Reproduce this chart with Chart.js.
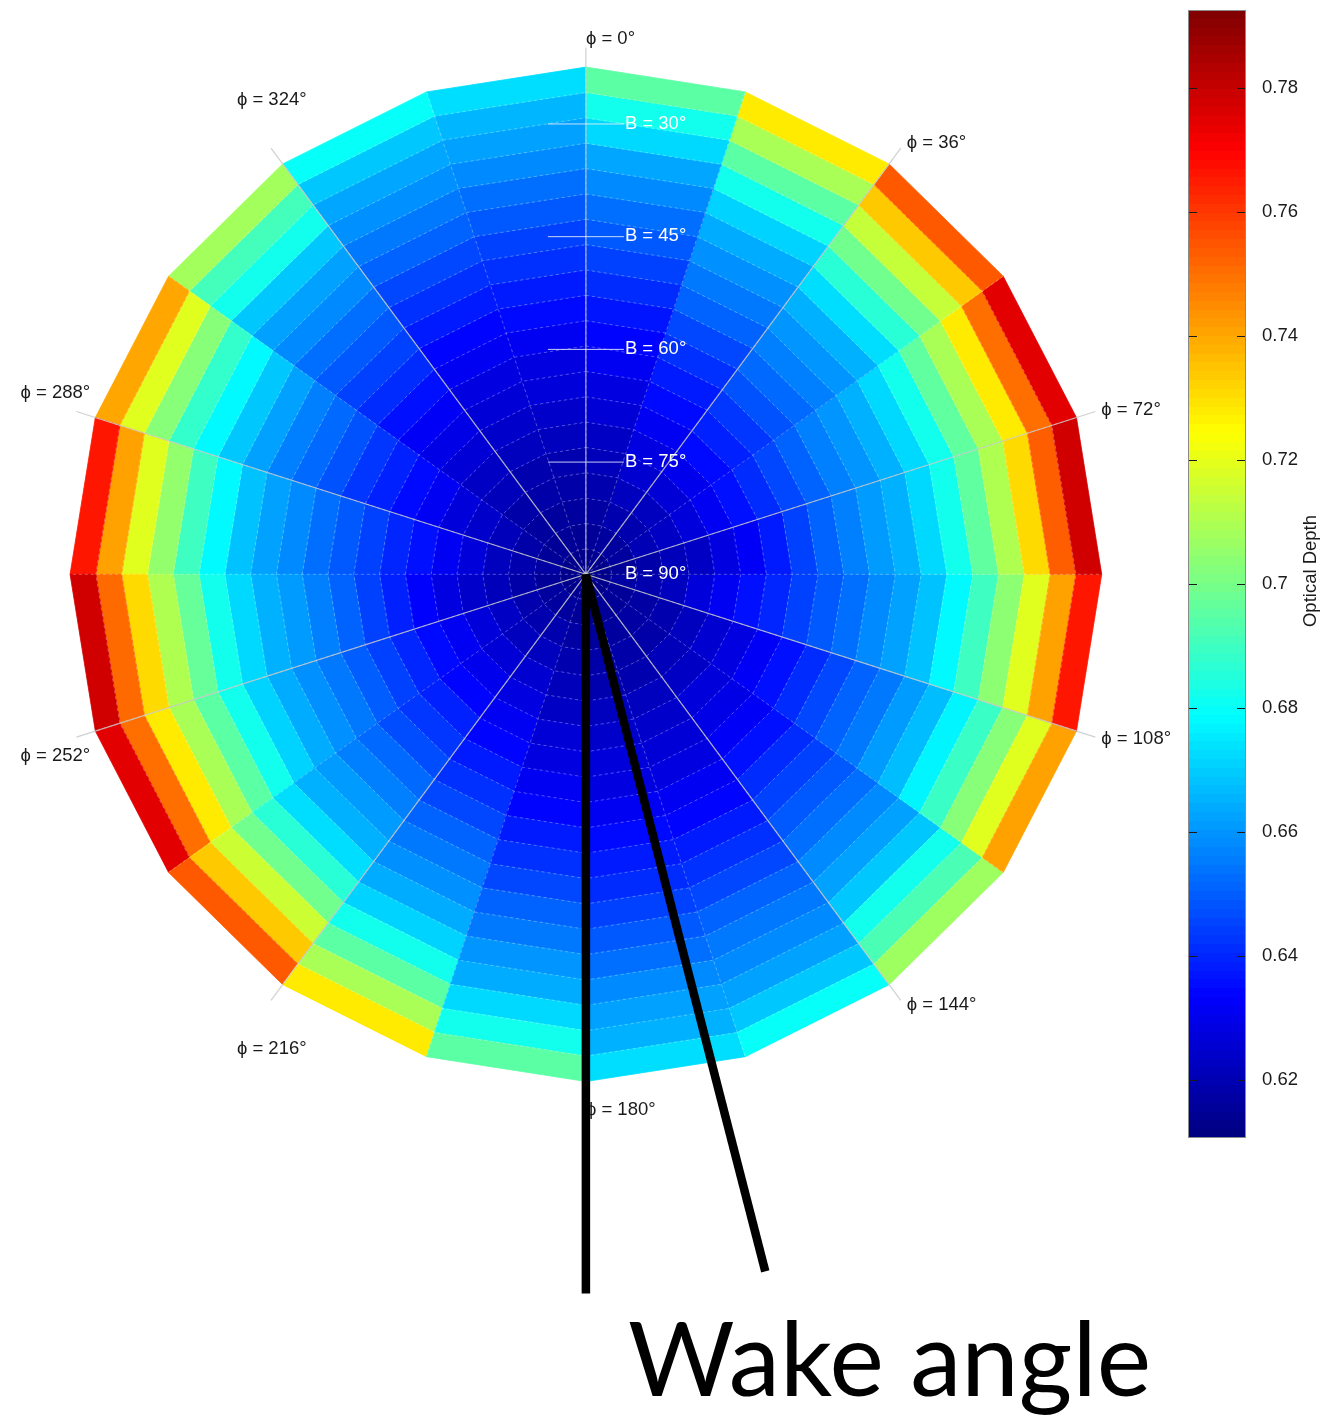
<!DOCTYPE html>
<html>
<head>
<meta charset="utf-8">
<title>Optical depth polar map</title>
<script src="https://cdn.jsdelivr.net/npm/chart.js@4.4.1/dist/chart.umd.min.js"></script>
<style>
  html, body { margin: 0; padding: 0; background: #fff; overflow: hidden; }
  #wrap { position: relative; width: 1325px; height: 1420px; }
  #polar { position: absolute; left: 0; top: 0; }
  #colorbar { position: absolute; left: 1180px; top: 0; }
</style>
</head>
<body>
<div id="wrap">
  <canvas id="polar" width="1325" height="1420"></canvas>
  <canvas id="colorbar" width="145" height="1150"></canvas>
</div>
<script>
// sector start angles (deg, clockwise from top) and ring edges in B (deg), outer -> centre
const sectorStart = [0, 18, 36, 54, 72, 90, 108, 126, 144, 162, 180, 198, 216, 234, 252, 270, 288, 306, 324, 342];
const ringEdgesB = [22.5, 25.875, 29.25, 32.625, 36, 39.375, 42.75, 46.125, 49.5, 52.875, 56.25,
                    59.625, 63, 66.375, 69.75, 73.125, 76.5, 79.875, 83.25, 86.625, 90];
const phiTicks = [0, 36, 72, 108, 144, 180, 216, 252, 288, 324];
const bTicks = [30, 45, 60, 75, 90];

// optical depth per sector, one value per ring from B = 22.5 (outside) to B = 90 (centre)
const depth000 = [0.695, 0.682, 0.672, 0.663, 0.658, 0.653, 0.649, 0.645, 0.641, 0.637, 0.634, 0.631, 0.628, 0.626, 0.623, 0.621, 0.619, 0.617, 0.615, 0.613];
const depth018 = [0.728, 0.709, 0.695, 0.682, 0.671, 0.664, 0.659, 0.655, 0.651, 0.646, 0.642, 0.638, 0.635, 0.631, 0.628, 0.625, 0.622, 0.619, 0.616, 0.614];
const depth036 = [0.754, 0.734, 0.714, 0.699, 0.686, 0.673, 0.665, 0.660, 0.656, 0.652, 0.648, 0.643, 0.639, 0.635, 0.630, 0.626, 0.622, 0.619, 0.616, 0.613];
const depth054 = [0.775, 0.750, 0.728, 0.709, 0.696, 0.682, 0.672, 0.665, 0.660, 0.656, 0.651, 0.646, 0.641, 0.636, 0.631, 0.627, 0.623, 0.620, 0.616, 0.613];
const depth072 = [0.778, 0.753, 0.731, 0.710, 0.696, 0.682, 0.672, 0.665, 0.661, 0.656, 0.651, 0.645, 0.638, 0.632, 0.628, 0.623, 0.621, 0.618, 0.615, 0.613];
const depth090 = [0.766, 0.741, 0.719, 0.704, 0.690, 0.678, 0.668, 0.662, 0.658, 0.653, 0.649, 0.645, 0.640, 0.636, 0.631, 0.627, 0.622, 0.619, 0.617, 0.613];
const depth108 = [0.741, 0.719, 0.703, 0.689, 0.677, 0.667, 0.661, 0.655, 0.651, 0.646, 0.641, 0.636, 0.632, 0.628, 0.625, 0.622, 0.619, 0.617, 0.615, 0.613];
const depth126 = [0.707, 0.692, 0.682, 0.669, 0.662, 0.658, 0.653, 0.649, 0.645, 0.641, 0.636, 0.632, 0.629, 0.627, 0.623, 0.621, 0.618, 0.617, 0.615, 0.613];
const depth144 = [0.680, 0.669, 0.662, 0.658, 0.655, 0.651, 0.646, 0.642, 0.638, 0.634, 0.631, 0.628, 0.626, 0.624, 0.622, 0.619, 0.618, 0.616, 0.615, 0.613];
const depth162 = [0.673, 0.665, 0.662, 0.658, 0.653, 0.649, 0.645, 0.641, 0.638, 0.635, 0.631, 0.628, 0.627, 0.624, 0.622, 0.619, 0.618, 0.616, 0.614, 0.613];
const depth180 = [0.695, 0.682, 0.672, 0.664, 0.660, 0.655, 0.651, 0.646, 0.642, 0.638, 0.634, 0.631, 0.628, 0.626, 0.623, 0.621, 0.619, 0.617, 0.615, 0.613];
const depth198 = [0.728, 0.709, 0.695, 0.682, 0.671, 0.664, 0.659, 0.655, 0.651, 0.646, 0.642, 0.638, 0.634, 0.631, 0.628, 0.625, 0.622, 0.619, 0.616, 0.614];
const depth216 = [0.754, 0.734, 0.715, 0.699, 0.686, 0.673, 0.665, 0.661, 0.656, 0.652, 0.647, 0.643, 0.639, 0.634, 0.630, 0.626, 0.622, 0.619, 0.616, 0.613];
const depth234 = [0.775, 0.750, 0.728, 0.709, 0.695, 0.682, 0.671, 0.664, 0.659, 0.655, 0.650, 0.645, 0.640, 0.635, 0.631, 0.627, 0.623, 0.619, 0.616, 0.613];
const depth252 = [0.778, 0.751, 0.731, 0.710, 0.697, 0.682, 0.672, 0.665, 0.661, 0.656, 0.651, 0.645, 0.639, 0.633, 0.628, 0.624, 0.621, 0.618, 0.615, 0.613];
const depth270 = [0.766, 0.741, 0.719, 0.705, 0.690, 0.678, 0.668, 0.662, 0.658, 0.653, 0.649, 0.645, 0.640, 0.636, 0.631, 0.627, 0.622, 0.619, 0.617, 0.613];
const depth288 = [0.740, 0.719, 0.703, 0.688, 0.678, 0.669, 0.662, 0.656, 0.652, 0.648, 0.643, 0.639, 0.635, 0.631, 0.627, 0.624, 0.621, 0.618, 0.615, 0.613];
const depth306 = [0.708, 0.691, 0.682, 0.669, 0.662, 0.658, 0.653, 0.649, 0.645, 0.641, 0.636, 0.632, 0.629, 0.626, 0.623, 0.621, 0.618, 0.616, 0.615, 0.613];
const depth324 = [0.680, 0.669, 0.663, 0.659, 0.655, 0.651, 0.646, 0.642, 0.638, 0.634, 0.631, 0.628, 0.626, 0.624, 0.622, 0.619, 0.618, 0.616, 0.615, 0.613];
const depth342 = [0.673, 0.666, 0.662, 0.658, 0.653, 0.649, 0.645, 0.642, 0.638, 0.635, 0.631, 0.628, 0.627, 0.624, 0.622, 0.619, 0.618, 0.616, 0.614, 0.613];

// colour scale
const colorbarRange = [0.6106, 0.7926];
const colorbarTicks = [0.62, 0.64, 0.66, 0.68, 0.70, 0.72, 0.74, 0.76, 0.78];

// wake annotation (two lines from the centre)
const wakePhi = [180, 165.8];
const wakeLength = 95.7;
const wakeText = 'Wake angle';

const sectors = [depth000, depth018, depth036, depth054, depth072, depth090, depth108, depth126, depth144, depth162,
                 depth180, depth198, depth216, depth234, depth252, depth270, depth288, depth306, depth324, depth342];

const labelFont = '18.5px "Liberation Sans", Arial, sans-serif';
const spokeLength = 70.1;

function jet(t) {
  const c = x => Math.round(255 * Math.max(0, Math.min(1, x)));
  return 'rgb(' + c(1.5 - Math.abs(4 * t - 3)) + ',' + c(1.5 - Math.abs(4 * t - 2)) + ',' + c(1.5 - Math.abs(4 * t - 1)) + ')';
}
function depthColor(v) {
  return jet((v - colorbarRange[0]) / (colorbarRange[1] - colorbarRange[0]));
}
// polar (r = 90 - B, phi clockwise from top) -> data x/y
function polar(r, phi) {
  const a = phi * Math.PI / 180;
  return { x: r * Math.sin(a), y: r * Math.cos(a) };
}

const sectorWidth = sectorStart[1] - sectorStart[0];
const rOuter = 90 - ringEdgesB[0];
const datasets = [];

sectors.forEach((vals, j) => {
  const p1 = sectorStart[j], p2 = p1 + sectorWidth;
  vals.forEach((v, k) => {
    const rOut = 90 - ringEdgesB[k], rIn = 90 - ringEdgesB[k + 1];
    const col = depthColor(v);
    datasets.push({
      data: [polar(rOut, p1), polar(rOut, p2), polar(rIn, p2), polar(rIn, p1), polar(rOut, p1)],
      showLine: true, fill: 'shape', backgroundColor: col, borderColor: col, borderWidth: 0.8,
      pointRadius: 0, order: 5
    });
  });
});

// dashed ring boundaries
ringEdgesB.slice(1, -1).forEach(b => {
  const pts = sectorStart.map(p => polar(90 - b, p));
  pts.push(pts[0]);
  datasets.push({ data: pts, showLine: true, fill: false, borderColor: 'rgba(255,255,255,0.3)',
    borderWidth: 1, borderDash: [3, 3], pointRadius: 0, order: 4 });
});
// dashed sector boundaries
sectorStart.forEach(p => {
  datasets.push({ data: [polar(0, p), polar(rOuter, p)], showLine: true, fill: false,
    borderColor: 'rgba(255,255,255,0.3)', borderWidth: 1, borderDash: [3, 3], pointRadius: 0, order: 4 });
});
// solid spokes at the labelled angles
phiTicks.forEach(p => {
  datasets.push({ data: [polar(0, p), polar(spokeLength, p)], showLine: true, fill: false,
    borderColor: 'rgba(200,200,200,0.85)', borderWidth: 1.2, pointRadius: 0, order: 2 });
});
// wake lines
wakePhi.forEach(p => {
  datasets.push({ data: [polar(0, p), polar(wakeLength, p)], showLine: true, fill: false,
    borderColor: '#000', borderWidth: 8.5, borderCapStyle: 'butt', pointRadius: 0, order: 1 });
});

const polarText = {
  id: 'polarText',
  beforeDatasetsDraw(chart) {
    const {ctx, scales: {x, y}} = chart;
    ctx.save();
    ctx.font = labelFont;
    ctx.fillStyle = '#1a1a1a';
    phiTicks.forEach(p => {
      const tip = polar(spokeLength, p);
      const tx = x.getPixelForValue(tip.x), ty = y.getPixelForValue(tip.y);
      const s = Math.sin(p * Math.PI / 180), c = Math.cos(p * Math.PI / 180);
      const txt = '\u03d5 = ' + p + '\u00b0';
      if (p === 0) {
        ctx.textAlign = 'left'; ctx.textBaseline = 'bottom'; ctx.fillText(txt, tx, ty + 1);
      } else if (p === 180) {
        ctx.textAlign = 'left'; ctx.textBaseline = 'top'; ctx.fillText(txt, tx, ty);
      } else if (s > 0) {
        ctx.textAlign = 'left'; ctx.textBaseline = 'middle'; ctx.fillText(txt, tx + 6, ty - 6 * c);
      } else {
        ctx.textAlign = 'center'; ctx.textBaseline = 'middle';
        ctx.fillText(txt, tx + (s + 0.6) * 60, ty - 60 * c);
      }
    });
    ctx.restore();
  },
  afterDatasetsDraw(chart) {
    const {ctx, scales: {x, y}} = chart;
    const x0 = x.getPixelForValue(0);
    ctx.save();
    ctx.font = labelFont;
    ctx.textAlign = 'left';
    ctx.textBaseline = 'middle';
    bTicks.forEach(b => {
      const yy = y.getPixelForValue(90 - b);
      if (b < 90) {
        ctx.strokeStyle = 'rgba(235,240,250,0.85)';
        ctx.lineWidth = 1;
        ctx.beginPath();
        ctx.moveTo(x0 - 38, yy + 0.5);
        ctx.lineTo(x0 + 38, yy + 0.5);
        ctx.stroke();
      }
      ctx.fillStyle = '#fff';
      ctx.fillText('B = ' + b + '\u00b0', x0 + 39, yy);
    });
    ctx.font = '103px Lato, "Open Sans", sans-serif';
    ctx.fillStyle = '#000';
    ctx.textBaseline = 'alphabetic';
    ctx.fillText(wakeText, 628, 1396);
    ctx.restore();
  }
};

new Chart(document.getElementById('polar'), {
  type: 'scatter',
  data: { datasets },
  options: {
    responsive: false,
    animation: false,
    events: [],
    layout: { padding: 0 },
    plugins: { legend: { display: false }, tooltip: { enabled: false } },
    scales: {
      x: { type: 'linear', display: false, min: -76.67, max: 96.72 },
      y: { type: 'linear', display: false, min: -112.55, max: 76.43 }
    }
  },
  plugins: [polarText]
});

// colour bar
let cbGradient = null;
function barGradient(context) {
  const {chart} = context;
  const area = chart.chartArea;
  if (!area) return null;
  if (!cbGradient) {
    cbGradient = chart.ctx.createLinearGradient(0, area.bottom, 0, area.top);
    const n = 128;
    for (let i = 0; i < n; i++) {
      const col = jet((i + 0.5) / n);
      cbGradient.addColorStop(i / n, col);
      cbGradient.addColorStop((i + 1) / n, col);
    }
  }
  return cbGradient;
}

const colorbarFrame = {
  id: 'colorbarFrame',
  afterDatasetsDraw(chart) {
    const {ctx, chartArea: a, scales: {y}} = chart;
    ctx.save();
    ctx.strokeStyle = '#1a1a1a';
    ctx.lineWidth = 1;
    colorbarTicks.forEach(v => {
      const yy = Math.round(y.getPixelForValue(v)) + 0.5;
      ctx.beginPath();
      ctx.moveTo(a.left, yy); ctx.lineTo(a.left + 9, yy);
      ctx.moveTo(a.right - 9, yy); ctx.lineTo(a.right, yy);
      ctx.stroke();
    });
    ctx.strokeStyle = '#8a8a8a';
    ctx.strokeRect(a.left + 0.5, a.top + 0.5, a.right - a.left - 1, a.bottom - a.top - 1);
    ctx.translate(131, (a.top + a.bottom) / 2 - 3);
    ctx.rotate(-Math.PI / 2);
    ctx.font = labelFont;
    ctx.fillStyle = '#1a1a1a';
    ctx.textAlign = 'center';
    ctx.textBaseline = 'middle';
    ctx.fillText('Optical Depth', 0, 0);
    ctx.restore();
  }
};

new Chart(document.getElementById('colorbar'), {
  type: 'bar',
  data: {
    labels: [''],
    datasets: [{ data: [colorbarRange], backgroundColor: barGradient, borderWidth: 0,
      barPercentage: 1, categoryPercentage: 1 }]
  },
  options: {
    responsive: false,
    animation: false,
    events: [],
    layout: { padding: { left: 8, top: 10, bottom: 12, right: 0 } },
    plugins: { legend: { display: false }, tooltip: { enabled: false } },
    scales: {
      x: { display: false },
      y: {
        position: 'right',
        min: colorbarRange[0],
        max: colorbarRange[1],
        afterBuildTicks: s => { s.ticks = colorbarTicks.map(v => ({ value: v })); },
        afterFit: s => { s.width = 79; s.paddingTop = 0; s.paddingBottom = 0; },
        grid: { display: false, drawTicks: false },
        border: { display: false },
        ticks: {
          padding: 16,
          color: '#1a1a1a',
          font: { family: '"Liberation Sans", Arial, sans-serif', size: 18.5 },
          callback: v => String(+Number(v).toFixed(2))
        }
      }
    }
  },
  plugins: [colorbarFrame]
});
</script>
</body>
</html>
